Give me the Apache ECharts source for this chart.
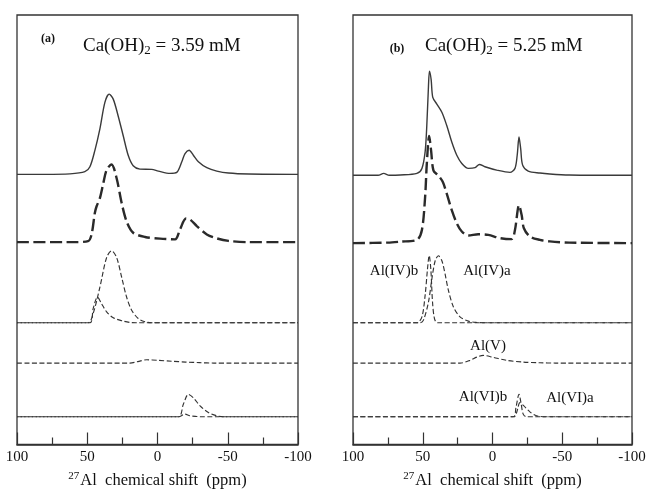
<!DOCTYPE html>
<html><head><meta charset="utf-8">
<script src="https://cdn.jsdelivr.net/npm/echarts@6/dist/echarts.min.js"></script>
<style>html,body{margin:0;padding:0;background:#fff}#c{width:650px;height:494px}</style>
</head><body><div id="c"></div>
<script>
// 27Al NMR spectra, each trace as [chemical shift (ppm), intensity above its own baseline]

// (a) Ca(OH)2 = 3.59 mM
const expA = [[100,0],[80,0],[62.4,0.5],[51.7,2.7],[48.1,7.7],[44.6,24],[41,46],[37.4,73],[34.4,81],[31.5,76],[28,59],[24.4,39],[20.8,19],[17.3,8.7],[12.5,5.3],[4.1,5],[-0.6,3.3],[-8.9,1],[-13.7,2],[-17.3,12.7],[-19.6,21],[-22.5,24.3],[-25.5,19.3],[-29.1,12.7],[-35.1,6.7],[-42.2,3.3],[-50.5,1.3],[-65,0.3],[-100,0]];
const simA = [[100,0],[60,0],[49.4,1],[46.9,8],[44.6,29.5],[43.4,36],[41,44.5],[38.5,60],[36.2,73],[32.7,78.5],[29.1,64.5],[25.5,39.5],[22,21],[17.3,9.5],[8.9,5.2],[-1.8,3.5],[-12.5,2.8],[-16,12.8],[-20.3,23.8],[-23.2,22.8],[-28,16.2],[-35.1,7.8],[-42.2,3.8],[-50.5,1.2],[-65,0],[-100,0]];
const aIVa = [[100,0],[49.4,0],[45.8,9.3],[41,36],[36.2,66],[32.7,72.7],[29.1,66],[25.5,46],[22,26],[18.4,12.7],[13.7,4.3],[8.9,1],[4,0],[-100,0]];
const aIVb = [[100,0],[48.1,0],[45.8,14.3],[42.7,26],[39.8,19.3],[36.2,11],[31.5,5],[24.4,1.7],[19.6,0.3],[15,0],[-100,0]];
const aV   = [[100,0],[19.6,0],[14,1.5],[7.6,3.3],[0,2.8],[-10,1.8],[-20,1],[-30,0.4],[-40,0],[-100,0]];
const aVIa = [[100,0],[-14.8,0],[-18.4,12.7],[-22,22.7],[-25.5,19.3],[-30.3,11],[-36.2,4.3],[-42.2,1],[-48,0],[-100,0]];
const aVIb = [[100,0],[-15,0],[-19.6,2.7],[-23,1],[-28,0.3],[-32,0],[-100,0]];

// (b) Ca(OH)2 = 5.25 mM
const expB = [[100,0],[82,0],[78,2],[74,0],[66.2,0.3],[54.2,2],[50.6,7],[48.3,23.7],[47.1,50],[45.9,90],[45.2,105.3],[44,97],[42.8,78.7],[39.9,72],[36.3,63.7],[32.8,50.3],[29.2,33.7],[25.6,20.3],[22,12],[17.3,7],[12.5,7.7],[9.4,11],[5.4,8.7],[-3,5.3],[-12.5,3],[-16.1,7],[-17.7,20.3],[-19,38.7],[-20.2,27],[-21.6,10.3],[-25.6,4.3],[-34,2.3],[-41.1,1.3],[-55,0.3],[-100,0]];
const simB = [[100,0],[75,0.5],[66.2,1.5],[54.2,3.3],[50.6,13.3],[48.3,46.7],[47.1,80],[45.4,108.3],[44,93.3],[42.3,73.3],[38.8,68.3],[35.6,61.7],[32.8,50],[29.2,33.3],[25.6,20],[22,11.7],[17.3,7.7],[10.2,9],[3,8.3],[-5.4,5],[-13.7,4],[-16.1,13.3],[-19,38.3],[-20.9,28.3],[-22.5,15],[-26.8,6.7],[-34,3.3],[-41.1,1.7],[-55,0.5],[-100,0]];
const bIVb = [[100,0],[54.2,0],[50.6,6],[48.3,27.7],[46.6,54.3],[45.4,68],[44.2,54],[43,21],[41.6,4.3],[39.5,0],[-100,0]];
const bIVa = [[100,0],[52,0],[49.5,2.7],[45.9,21],[43.5,44],[41.1,62.7],[38.8,67.7],[36.3,62.7],[34,49.3],[31.6,32.7],[28,16],[23.3,6],[17.3,1.7],[11.3,0.3],[6,0],[-100,0]];
const bV   = [[100,0],[23.3,0],[16.1,2.7],[11.3,6],[6.6,7.7],[-0.6,5.7],[-10.2,2.7],[-22,1],[-34,0.3],[-45,0],[-100,0]];
const bVIb = [[100,0],[-14.9,0],[-16.8,9.3],[-19,22.7],[-20.4,14.3],[-22,2.7],[-24.4,0],[-100,0]];
const bVIa = [[100,0],[-15.5,0],[-17.3,4.3],[-19.7,14.3],[-22.5,11],[-26.8,5],[-31.6,1],[-40,0],[-100,0]];

const panelTags = ['(a)', '(b)'];
const concentrations = ['3.59', '5.25'];
const componentNames = ['Al(IV)b', 'Al(IV)a', 'Al(V)', 'Al(VI)b', 'Al(VI)a'];

const SERIF = '"Liberation Serif", "Times New Roman", serif';
const INK = '#333';

// vertical baselines of the stacked traces (y-axis units)
const BASE = {
  a: { exp: 273, sim: 204.5, iv: 123, v: 82.3, vi: 28 },
  b: { exp: 272, sim: 203.5, iv: 123, v: 82.3, vi: 28 }
};

const solid = { color: '#3a3a3a', width: 1.4, type: 'solid' };
const thick = { color: '#2a2a2a', width: 2.4, type: [12, 4.5] };
const thin  = { color: INK, width: 1.15, type: [5, 2.5] };
const thinShift = Object.assign({}, thin, { dashOffset: 3.75 });

function trace(grid, data, base, style) {
  return {
    type: 'line', xAxisIndex: grid, yAxisIndex: grid,
    data: data.map(p => [p[0], p[1] + base]),
    showSymbol: false, symbol: 'none', smooth: 0.3,
    lineStyle: style, silent: true, z: 3
  };
}

function xAxis(grid) {
  return {
    type: 'value', gridIndex: grid, min: -100, max: 100, interval: 50, inverse: true,
    axisLine: { lineStyle: { color: INK, width: 1.5 } },
    axisTick: { inside: true, length: 12, lineStyle: { color: INK, width: 1.2 } },
    minorTick: { show: true, splitNumber: 2, length: 7, lineStyle: { color: INK, width: 1.2 } },
    splitLine: { show: false }, minorSplitLine: { show: false },
    axisLabel: { fontFamily: SERIF, fontSize: 15, color: '#111', margin: 5 },
    name: '{sup|27}{t|Al  chemical shift  (ppm)}',
    nameLocation: 'middle', nameGap: 26,
    nameTextStyle: {
      color: '#111',
      rich: {
        sup: { fontFamily: SERIF, fontSize: 11, color: '#111', verticalAlign: 'top', lineHeight: 20, padding: [0, 1, 0, 0] },
        t: { fontFamily: SERIF, fontSize: 16.5, color: '#111', lineHeight: 20 }
      }
    }
  };
}
function yAxis(grid) {
  return { type: 'value', gridIndex: grid, min: 0, max: 434, show: false };
}

function titleText(x, y, conc) {
  return {
    type: 'text', x: x, y: y,
    style: {
      text: '{m|Ca(OH)}{s|2}{m| = ' + conc + ' mM}',
      verticalAlign: 'middle', align: 'left',
      rich: {
        m: { fontFamily: SERIF, fontSize: 19, fill: '#111', lineHeight: 22 },
        s: { fontFamily: SERIF, fontSize: 13, fill: '#111', lineHeight: 22, verticalAlign: 'bottom' }
      }
    }
  };
}
function label(text, x, y, size, weight) {
  return {
    type: 'text', x: x, y: y,
    style: { text: text, fontFamily: SERIF, fontSize: size, fontWeight: weight || 'normal',
             fill: '#111', align: 'center', verticalAlign: 'middle' }
  };
}

const chart = echarts.init(document.getElementById('c'), null, { renderer: 'canvas' });
chart.setOption({
  animation: false,
  backgroundColor: '#fff',
  grid: [
    { left: 17, top: 15, width: 281, height: 434, show: true, borderColor: INK, borderWidth: 1.3, backgroundColor: 'transparent' },
    { left: 353, top: 15, width: 279, height: 434, show: true, borderColor: INK, borderWidth: 1.3, backgroundColor: 'transparent' }
  ],
  xAxis: [xAxis(0), xAxis(1)],
  yAxis: [yAxis(0), yAxis(1)],
  series: [
    trace(0, expA, BASE.a.exp, solid),
    trace(0, simA, BASE.a.sim, thick),
    trace(0, aIVa, BASE.a.iv, thin),
    trace(0, aIVb, BASE.a.iv, thinShift),
    trace(0, aV,   BASE.a.v,  thin),
    trace(0, aVIa, BASE.a.vi, thin),
    trace(0, aVIb, BASE.a.vi, thinShift),
    trace(1, expB, BASE.b.exp, solid),
    trace(1, simB, BASE.b.sim, thick),
    trace(1, bIVa, BASE.b.iv, thin),
    trace(1, bIVb, BASE.b.iv, thin),
    trace(1, bV,   BASE.b.v,  thin),
    trace(1, bVIa, BASE.b.vi, thin),
    trace(1, bVIb, BASE.b.vi, thin)
  ],
  graphic: [
    label(panelTags[0], 48, 39, 12, 'bold'),
    titleText(83, 46, concentrations[0]),
    label(panelTags[1], 397, 49, 12, 'bold'),
    titleText(425, 46, concentrations[1]),
    label(componentNames[0], 394, 271, 15),
    label(componentNames[1], 487, 271, 15),
    label(componentNames[2], 488, 346, 15),
    label(componentNames[3], 483, 397, 15),
    label(componentNames[4], 570, 398, 15)
  ]
});
</script>
</body></html>
